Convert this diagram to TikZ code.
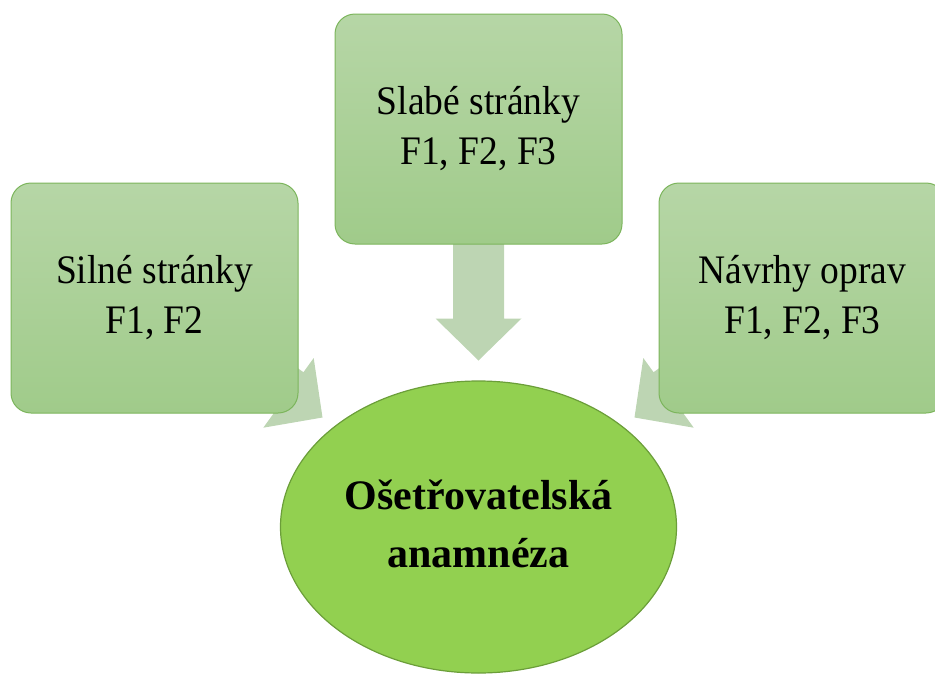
\documentclass[tikz,border=0pt]{standalone}
\usepackage{fontspec}
\usepackage{graphicx}
\setmainfont{Liberation Serif}
\usetikzlibrary{shapes.geometric,shadings,backgrounds,calc}

\definecolor{boxtop}{HTML}{B6D6A6}
\definecolor{boxbot}{HTML}{A0CB8A}
\definecolor{boxline}{HTML}{7CB55C}
\definecolor{arrowfill}{HTML}{BDD5B3}
\definecolor{ovalfill}{HTML}{92D050}
\definecolor{ovalline}{HTML}{6B9E39}

% two-line label of a factor box, slightly stretched upwards
\newcommand{\factortext}[2]{\scalebox{1}[1.08]{\begin{tabular}{@{}c@{}}#1\\#2\end{tabular}}}
% two-line bold label of the central oval
\newcommand{\coretext}[2]{\raisebox{3pt}{\begin{tabular}{@{}c@{}}#1\\#2\end{tabular}}}

\tikzset{
  factor/.style={draw=boxline, line width=1pt, top color=boxtop, bottom color=boxbot,
    rounded corners=20pt, minimum width=287pt, minimum height=230pt, inner sep=0pt,
    font=\fontsize{37.5}{46.3}\selectfont},
  core/.style={ellipse, draw=ovalline, line width=1.2pt, fill=ovalfill,
    minimum width=396pt, minimum height=292pt, inner sep=0pt,
    font=\fontsize{42}{58}\selectfont\bfseries},
  blockarrow/.style={fill=arrowfill}
}

\begin{document}
\begin{tikzpicture}[x=1pt, y=-1pt]
  \useasboundingbox (0,0) rectangle (935,675);
  \clip (0,0) rectangle (935,675);

  % the three factor boxes and the central oval
  \node[factor] (weak)   at (478.5,129) {\factortext{Slabé stránky}{F1, F2, F3}};
  \node[factor] (strong) at (154.5,298) {\factortext{Silné stránky}{F1, F2}};
  \node[factor] (fix)    at (802.5,298) {\factortext{Návrhy oprav}{F1, F2, F3}};
  \node[core]   (care)   at (478.5,527) {\coretext{Ošetřovatelská}{anamnéza}};

  % tips of the block arrows
  \coordinate (tipW) at ($(weak.south)+(0,116)$);
  \coordinate (tipS) at ($(strong.south east)+(24,4)$);
  \coordinate (tipF) at ($(fix.south west)+(-24,4)$);

  % block arrows, drawn behind the boxes
  \begin{scope}[on background layer]
    \fill[blockarrow, shift={(tipW)}, rotate=-90]
      (0,0) -- (-42,43) -- (-42,25.5) -- (-120,25.5) -- (-120,-25.5) -- (-42,-25.5) -- (-42,-43) -- cycle;
    \fill[blockarrow, shift={(tipS)}, rotate=-35.9]
      (0,0) -- (-42,43) -- (-42,25.5) -- (-170,25.5) -- (-170,-25.5) -- (-42,-25.5) -- (-42,-43) -- cycle;
    \fill[blockarrow, shift={(tipF)}, rotate=-144.1]
      (0,0) -- (-42,43) -- (-42,25.5) -- (-170,25.5) -- (-170,-25.5) -- (-42,-25.5) -- (-42,-43) -- cycle;
  \end{scope}
\end{tikzpicture}
\end{document}
